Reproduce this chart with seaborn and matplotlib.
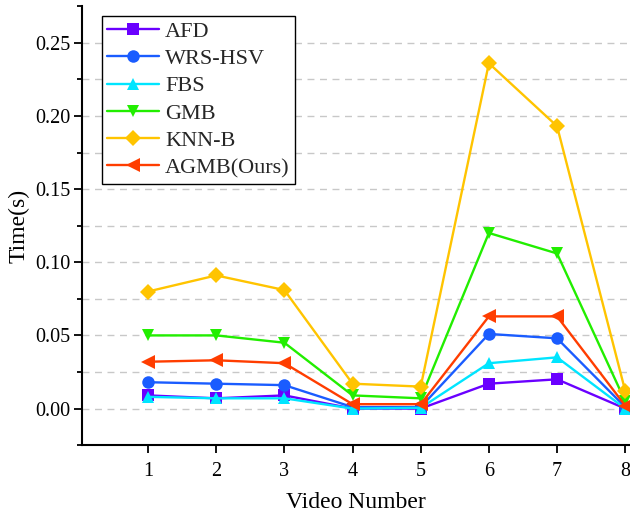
import numpy as np
import pandas as pd
import matplotlib
matplotlib.use("Agg")
import matplotlib.pyplot as plt
import seaborn as sns
from matplotlib.ticker import MultipleLocator, FormatStrFormatter

# Per-video processing time (seconds) for each method
videos = [1, 2, 3, 4, 5, 6, 7, 8]
afd = [0.009, 0.007, 0.009, 0.000, 0.000, 0.017, 0.020, 0.000]
wrs_hsv = [0.018, 0.017, 0.016, 0.001, 0.001, 0.051, 0.048, 0.001]
fbs = [0.008, 0.007, 0.007, 0.000, 0.0005, 0.031, 0.035, 0.000]
gmb = [0.050, 0.050, 0.045, 0.009, 0.007, 0.120, 0.106, 0.005]
knn_b = [0.080, 0.091, 0.081, 0.017, 0.015, 0.236, 0.193, 0.012]
agmb = [0.032, 0.033, 0.031, 0.003, 0.003, 0.063, 0.063, 0.002]

methods = ["AFD", "WRS-HSV", "FBS", "GMB", "KNN-B", "AGMB(Ours)"]
series = [afd, wrs_hsv, fbs, gmb, knn_b, agmb]
colors = ["#6a00ff", "#1a5cff", "#00e5ff", "#22ee00", "#ffc400", "#ff3d00"]
markers = ["s", "o", "^", "v", "D", "<"]
sizes = [8, 9, 9, 9, 8, 10]

df = pd.DataFrame({
    "Video": np.tile(videos, len(methods)),
    "Time": np.concatenate(series),
    "Method": np.repeat(methods, len(videos)),
})

sns.set_theme(style="white")
plt.rcParams["font.family"] = ["Liberation Serif", "DejaVu Serif"]

fig = plt.figure(figsize=(6.30, 5.17), dpi=100)
ax = fig.add_axes([0.130, 0.139, 0.870, 0.849])

# horizontal dashed guides at every 0.025
for y in np.arange(0, 0.275, 0.025):
    ax.axhline(y, color="#c8c8c8", lw=1.0, ls=(0, (5, 4)), zorder=0)

for m, c, mk, ms in zip(methods, colors, markers, sizes):
    sub = df[df["Method"] == m]
    sns.lineplot(data=sub, x="Video", y="Time", ax=ax, color=c, marker=mk,
                 markersize=ms, markeredgewidth=0, lw=1.7, label=m,
                 estimator=None, sort=False)

ax.set_xlim(0.03, 8.07)
ax.set_ylim(-0.025, 0.275)
ax.set_xticks(videos)
ax.yaxis.set_major_locator(MultipleLocator(0.05))
ax.yaxis.set_minor_locator(MultipleLocator(0.025))
ax.yaxis.set_major_formatter(FormatStrFormatter("%.2f"))

for side in ["top", "right"]:
    ax.spines[side].set_visible(False)
for side in ["left", "bottom"]:
    ax.spines[side].set_color("black")
    ax.spines[side].set_linewidth(1.5)

ax.tick_params(axis="both", which="major", direction="out", length=6, width=1.3,
               color="black", labelsize=14.5, labelcolor="black", left=True, bottom=True)
ax.tick_params(axis="y", which="minor", direction="out", length=3.5, width=1.3,
               color="black", left=True)
ax.tick_params(axis="x", pad=6)
ax.tick_params(axis="y", pad=2.5)

ax.set_xlabel("Video Number", fontsize=17, color="black", labelpad=8)
ax.set_ylabel("Time(s)", fontsize=17, color="black", labelpad=4)

leg = ax.legend(loc="upper left", bbox_to_anchor=(0.036, 0.978), borderaxespad=0,
                fontsize=16, frameon=True, fancybox=False, edgecolor="black",
                handlelength=2.35, labelspacing=0.3, handletextpad=0.25,
                borderpad=0.25)
leg.get_frame().set_linewidth(1.0)
leg.get_frame().set_alpha(1)

fig.savefig("out.png", dpi=100)
